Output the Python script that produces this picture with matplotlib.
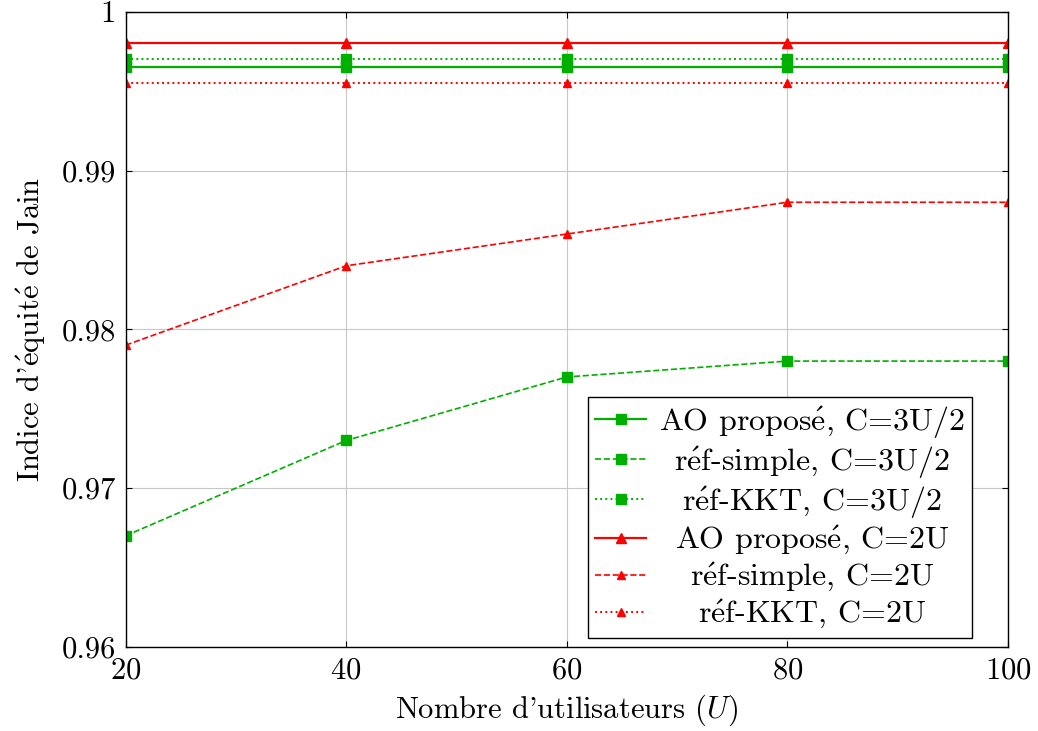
import matplotlib
matplotlib.use('Agg')
import matplotlib.pyplot as plt

plt.rcParams['font.family'] = ['cmr10', 'DejaVu Serif']
plt.rcParams['mathtext.fontset'] = 'cm'
plt.rcParams['axes.formatter.use_mathtext'] = True

users = [20, 40, 60, 80, 100]

ao_3u2 = [0.9965, 0.9965, 0.9965, 0.9965, 0.9965]
simple_3u2 = [0.967, 0.973, 0.977, 0.978, 0.978]
kkt_3u2 = [0.997, 0.997, 0.997, 0.997, 0.997]
ao_2u = [0.998, 0.998, 0.998, 0.998, 0.998]
simple_2u = [0.979, 0.984, 0.986, 0.988, 0.988]
kkt_2u = [0.9955, 0.9955, 0.9955, 0.9955, 0.9955]

# accented e drawn through mathtext so it stays in Computer Modern
E = r'$\acute{\rm e}$'
labels = [
    'AO propos' + E + ', C=3U/2',
    'r' + E + 'f-simple, C=3U/2',
    'r' + E + 'f-KKT, C=3U/2',
    'AO propos' + E + ', C=2U',
    'r' + E + 'f-simple, C=2U',
    'r' + E + 'f-KKT, C=2U',
]

green = '#00b000'
red = '#ff0000'
fs = 22

fig, ax = plt.subplots(figsize=(10.38, 7.31), dpi=100)

ax.plot(users, ao_3u2, '-', color=green, marker='s', ms=7, lw=1.6, label=labels[0])
ax.plot(users, simple_3u2, '--', color=green, marker='s', ms=7, lw=1.2, label=labels[1])
ax.plot(users, kkt_3u2, ':', color=green, marker='s', ms=7, lw=1.4, label=labels[2])
ax.plot(users, ao_2u, '-', color=red, marker='^', ms=7, lw=1.6, label=labels[3])
ax.plot(users, simple_2u, '--', color=red, marker='^', ms=6, lw=1.2, label=labels[4])
ax.plot(users, kkt_2u, ':', color=red, marker='^', ms=6, lw=1.4, label=labels[5])

ax.set_xlim(20, 100)
ax.set_ylim(0.96, 1.0)
ax.set_xticks(users)
ax.set_yticks([0.96, 0.97, 0.98, 0.99, 1.0])
ax.set_yticklabels(['0.96', '0.97', '0.98', '0.99', '1'])
ax.grid(True, color='#c8c8c8', lw=0.8)
ax.tick_params(direction='in', labelsize=fs, length=4, top=True, right=True, pad=7)
for s in ax.spines.values():
    s.set_linewidth(1.0)

ax.set_xlabel("Nombre d'utilisateurs ($U$)", fontsize=fs, labelpad=6)
ax.set_ylabel("Indice d'" + E + 'quit' + E + ' de Jain', fontsize=fs, labelpad=10)

leg = ax.legend(loc='lower right', bbox_to_anchor=(0.959, 0.014), fontsize=23,
                fancybox=False, edgecolor='black', framealpha=1, handlelength=1.6,
                borderaxespad=0, labelspacing=0.12, borderpad=0.22, handletextpad=0.4)
leg.get_frame().set_linewidth(1.0)

fig.subplots_adjust(left=0.121, right=0.971, top=0.984, bottom=0.115)

# centre the legend entries within the text column
fig.canvas.draw()
renderer = fig.canvas.get_renderer()
widths = [t.get_window_extent(renderer).width for t in leg.get_texts()]
wmax = max(widths)
for t, w in zip(leg.get_texts(), widths):
    t.set_x((wmax - w) / 2)

fig.savefig('out.png', dpi=100)
